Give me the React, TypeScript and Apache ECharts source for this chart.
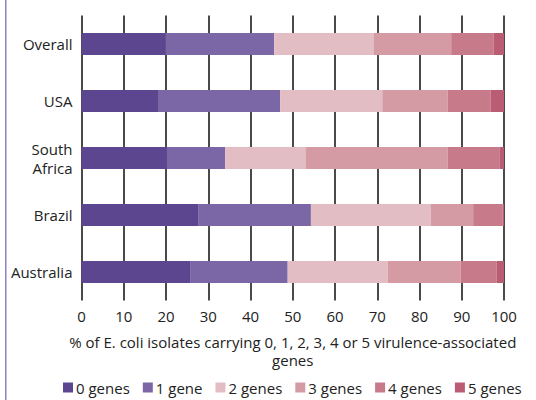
import React, { useEffect, useRef } from "react";
import * as echarts from "echarts";

const categories = ["Overall", "USA", "South\nAfrica", "Brazil", "Australia"];
const seriesNames = ["0 genes", "1 gene", "2 genes", "3 genes", "4 genes", "5 genes"];
const colors = ["#5d4690", "#7b66a6", "#e2bec4", "#d49ba5", "#c67a8a", "#b95c74"];
// values per category (Overall, USA, South Africa, Brazil, Australia)
const genes0 = [19.9, 18.3, 20.2, 27.6, 25.7];
const genes1 = [25.7, 28.7, 13.8, 26.7, 23.1];
const genes2 = [23.5, 24.2, 19.0, 28.4, 23.7];
const genes3 = [18.4, 15.5, 33.7, 10.0, 17.2];
const genes4 = [10.0, 10.1, 12.2, 7.0, 8.5];
const genes5 = [2.5, 3.2, 1.1, 0.3, 1.8];
const seriesValues = [genes0, genes1, genes2, genes3, genes4, genes5];
const xTicks = [0, 10, 20, 30, 40, 50, 60, 70, 80, 90, 100];

export default function App() {
  const ref = useRef<HTMLDivElement>(null);
  useEffect(() => {
    if (!ref.current) return;
    const chart = echarts.init(ref.current, null, { renderer: "svg" });
    const font = "'Open Sans', 'Noto Sans', sans-serif";
    chart.setOption({
      animation: false,
      textStyle: { fontFamily: font },
      graphic: [
        {
          type: "rect",
          shape: { x: 5, y: 0, width: 1.5, height: 400 },
          style: { fill: "#8f7fcc" },
          silent: true,
        },
      ],
      grid: { left: 81.5, right: 32, top: 15.5, bottom: 99.5, containLabel: false },
      legend: {
        bottom: 0,
        left: 58,
        itemWidth: 10,
        itemHeight: 10,
        itemGap: 13,
        icon: "rect",
        textStyle: { fontSize: 15, color: "#222", fontFamily: font, padding: [0, 0, 0, -2] },
        data: seriesNames,
      },
      xAxis: {
        type: "value",
        min: 0,
        max: 100,
        interval: 10,
        axisLine: { show: false },
        axisTick: { show: false },
        axisLabel: {
          fontSize: 15,
          color: "#222",
          margin: 8,
          fontFamily: font,
          formatter: (v: number) => (xTicks.includes(v) ? String(v) : ""),
        },
        splitLine: {
          show: true,
          showMinLine: true,
          showMaxLine: true,
          lineStyle: { color: "#4a4a4a", width: 2, type: "solid" },
        },
        name: "% of E. coli isolates carrying 0, 1, 2, 3, 4 or 5 virulence-associated\ngenes",
        nameLocation: "middle",
        nameGap: 32,
        nameTextStyle: { fontSize: 15, color: "#222", lineHeight: 18, fontFamily: font, verticalAlign: "top" },
      },
      yAxis: {
        type: "category",
        inverse: true,
        data: categories,
        axisLine: { show: false },
        axisTick: { show: false },
        splitLine: { show: false },
        axisLabel: { fontSize: 15, color: "#222", margin: 9, lineHeight: 19, fontFamily: font },
      },
      series: seriesNames.map((name, i) => ({
        name,
        type: "bar",
        stack: "total",
        barWidth: 22,
        z: 5,
        itemStyle: { color: colors[i] },
        emphasis: { disabled: true },
        data: seriesValues[i],
      })),
    });
    return () => chart.dispose();
  }, []);
  return (
    <div
      ref={ref}
      style={{ position: "absolute", left: 0, top: 0, width: 536, height: 400, background: "#fff" }}
    />
  );
}
